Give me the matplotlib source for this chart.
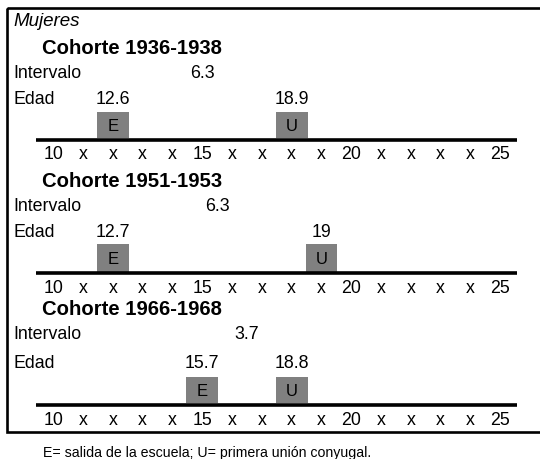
import numpy as np
import matplotlib
matplotlib.use("Agg")
import matplotlib.pyplot as plt
from matplotlib.patches import Rectangle

plt.rcParams['font.family'] = ['Liberation Sans', 'DejaVu Sans']

# ---- data ----
group_title = "Mujeres"
cohorts = ["Cohorte 1936-1938", "Cohorte 1951-1953", "Cohorte 1966-1968"]
age_school = [12.6, 12.7, 15.7]      # E = salida de la escuela
age_union = [18.9, 19, 18.8]         # U = primera unión conyugal
intervals = [6.3, 6.3, 3.7]
age_labels = ["12.6", "12.7", "15.7"]
union_labels = ["18.9", "19", "18.8"]
interval_labels = ["6.3", "6.3", "3.7"]
tick_values = list(range(10, 26))
tick_labels = ["10", "x", "x", "x", "x", "15", "x", "x", "x", "x",
               "20", "x", "x", "x", "x", "25"]
caption = "E= salida de la escuela; U= primera unión conyugal."

# ---- layout (pixel based) ----
W, H = 540, 460
X0PX, UNIT = 53.3, 29.8           # pixel of age 10 and pixels per year


def px2x(px):
    return 10 + (px - X0PX) / UNIT


fig = plt.figure(figsize=(W / 100, H / 100), dpi=100)
ax = fig.add_axes([0, 0, 1, 1])
ax.set_xlim(px2x(0), px2x(W))
ax.set_ylim(H, 0)
ax.axis('off')

# frame
ax.add_patch(Rectangle((px2x(7), 9), px2x(560) - px2x(7), 433 - 9,
                       fill=False, edgecolor='black', linewidth=1.9,
                       clip_on=False))

FS = 12.8
ax.text(px2x(13), 21.5, group_title, fontsize=13.5, style='italic',
        ha='left', va='center')

title_y = [48.3, 181.7, 310.0]
interval_y = [74.0, 206.7, 335.0]
edad_y = [99.0, 232.3, 363.3]
box_top = [113.3, 245.0, 378.3]
line_y = [140.7, 274.0, 405.5]
tick_y = [155.0, 288.3, 421.0]

box_w = 1.07
for i in range(3):
    ax.text(px2x(41.7), title_y[i], cohorts[i], fontsize=14.6, weight='bold',
            ha='left', va='center')
    ax.text(px2x(13), interval_y[i], "Intervalo", fontsize=FS,
            ha='left', va='center')
    ax.text(px2x(13), edad_y[i], "Edad", fontsize=FS,
            ha='left', va='center')

    # boxes placed in the year cell of each age
    xe = np.floor(age_school[i])
    xu = np.floor(age_union[i])
    bh = line_y[i] - 1.5 - box_top[i]
    for xc, letter, lab in ((xe, "E", age_labels[i]), (xu, "U", union_labels[i])):
        ax.add_patch(Rectangle((xc - box_w / 2, box_top[i]), box_w, bh,
                               facecolor='#808080', edgecolor='none'))
        ax.text(xc, box_top[i] + bh / 2 + 0.5, letter, fontsize=FS - 0.8,
                ha='center', va='center')
        ax.text(xc, edad_y[i], lab, fontsize=FS, ha='center', va='center')

    ax.text((xe + xu) / 2, interval_y[i], interval_labels[i], fontsize=FS,
            ha='center', va='center')

    ax.plot([px2x(36), px2x(516.7)], [line_y[i], line_y[i]], color='black',
            linewidth=2.6, solid_capstyle='butt')
    for tv, tl in zip(tick_values, tick_labels):
        ax.text(tv, tick_y[i], tl, fontsize=FS, ha='center', va='center')

ax.text(px2x(42.7), 453.5, caption, fontsize=10.2, ha='left', va='center')

fig.savefig("out.png", dpi=100)
